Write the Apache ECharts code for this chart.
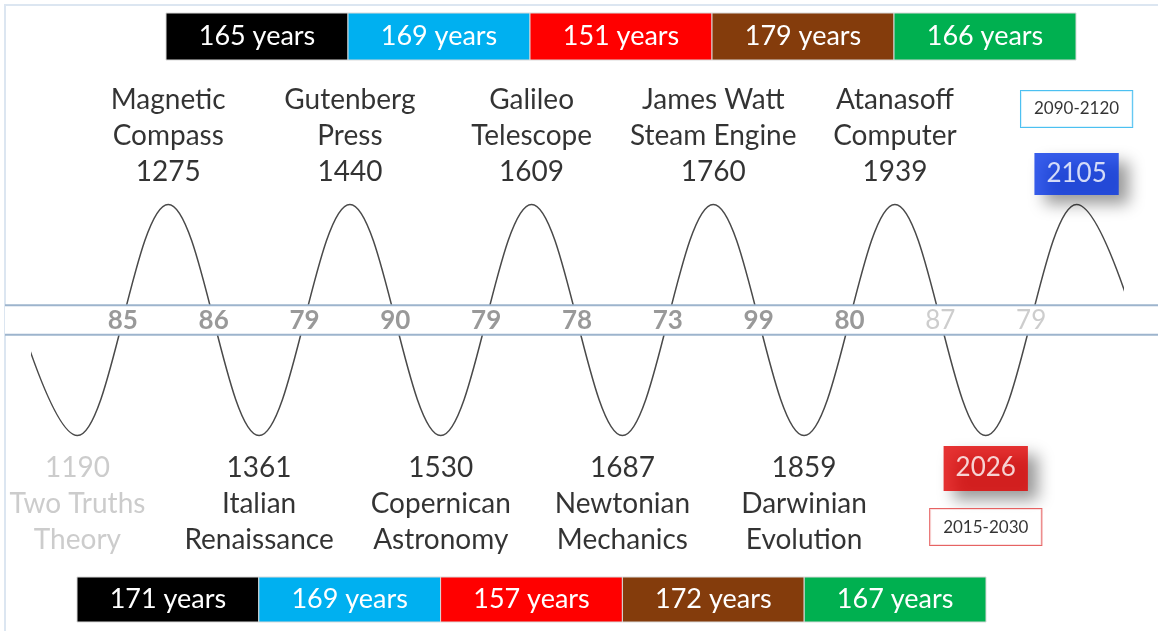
<!DOCTYPE html>
<html lang="en">
<head>
<meta charset="UTF-8">
<title>cycles</title>
<script src="https://cdn.jsdelivr.net/npm/echarts@6/dist/echarts.min.js"></script>
<style>html,body{margin:0;padding:0;background:#fff;}</style>
</head>
<body>
<div id="main" style="width:1158px;height:631px;"></div>
<script>
    // events on the crests (odd positions) and in the troughs (even positions)
    var peakNames = ['Magnetic\nCompass', 'Gutenberg\nPress', 'Galileo\nTelescope', 'James Watt\nSteam Engine', 'Atanasoff\nComputer', ''];
    var peakYears = [1275, 1440, 1609, 1760, 1939, 2105];
    var troughYears = [1190, 1361, 1530, 1687, 1859, 2026];
    var troughNames = ['Two Truths\nTheory', 'Italian\nRenaissance', 'Copernican\nAstronomy', 'Newtonian\nMechanics', 'Darwinian\nEvolution', ''];
    // years between neighbouring events (shown inside the band)
    var gaps = [85, 86, 79, 90, 79, 78, 73, 99, 80, 87, 79];
    // years between crest and crest / trough and trough
    var topSpans = [165, 169, 151, 179, 166];
    var bottomSpans = [171, 169, 157, 172, 167];
    var forecastRanges = ['2015-2030', '2090-2120'];
    // the wave: position on the timeline and height (+1 crest, -1 trough)
    var waveX = [-1, 0, 1, 2, 3, 4, 5, 6, 7, 8, 9, 10, 11, 12];
    var waveY = [1, -1, 1, -1, 1, -1, 1, -1, 1, -1, 1, -1, 1, -1];

    var spanColors = ['#000000', '#00b0f0', '#ff0000', '#843c0c', '#00b050'];
    var FONT = 'Lato';
    var bandHalf = 0.127;

    var myChart = echarts.init(document.getElementById('main'));

    function renderBand(params, api) {
        var yTop = api.coord([0, bandHalf])[1];
        var yBot = api.coord([0, -bandHalf])[1];
        var w = api.getWidth();
        return {
            type: 'group',
            children: [
                {type: 'rect', shape: {x: 5, y: yTop, width: w - 5, height: yBot - yTop}, style: {fill: '#fff'}},
                {type: 'line', shape: {x1: 5, y1: yTop, x2: w, y2: yTop}, style: {stroke: '#9db4cd', lineWidth: 2}},
                {type: 'line', shape: {x1: 5, y1: yBot, x2: w, y2: yBot}, style: {stroke: '#9db4cd', lineWidth: 2}}
            ]
        };
    }

    function renderCells(params, api) {
        var idx = api.value(0);
        var c = api.coord([idx, 0]);
        var w = api.size([1, 0])[0];
        var cs = params.coordSys;
        return {
            type: 'rect',
            shape: {x: c[0] - w / 2, y: cs.y, width: w, height: cs.height},
            style: {fill: spanColors[idx], stroke: '#d9d9d9', lineWidth: 1},
            textContent: {style: {text: api.value(1) + ' years', fill: '#fff', font: '27px ' + FONT}},
            textConfig: {position: 'inside'}
        };
    }

    var waveData = waveX.map(function (x, i) { return [x, waveY[i]]; });

    var gapData = gaps.map(function (g, i) {
        var item = {value: [i + 0.5, 0]};
        if (i >= 9) {
            item.label = {color: '#c0c0c0', fontWeight: 'normal'};
        }
        return item;
    });

    // boxed year for the forecast crest / trough
    function boxLabel(bg, pad, distance) {
        return {
            color: '#fff', backgroundColor: bg, padding: pad, lineHeight: 28, fontSize: 26,
            distance: distance, shadowBlur: 16, shadowColor: 'rgba(0,0,0,0.5)', shadowOffsetX: 10, shadowOffsetY: 9
        };
    }

    var peakData = peakYears.map(function (yr, k) {
        var item = {value: [2 * k + 1, 1]};
        if (!peakNames[k]) {
            item.label = boxLabel('#0535e6', [7, 12], 9);
        }
        return item;
    });

    var troughData = troughYears.map(function (yr, k) {
        var item = {value: [2 * k, -1]};
        if (k === 0) {
            item.label = {color: '#bfbfbf'};
        }
        if (!troughNames[k]) {
            item.label = boxLabel('#e00000', [8, 12, 9, 12], 10);
        }
        return item;
    });

    var rangeData = [
        {value: [10, -1], label: {position: 'bottom', distance: 73, borderColor: '#e03c3c'}},
        {value: [11, 1], label: {position: 'top', distance: 77, borderColor: '#1fb0ee'}}
    ];

    var labelSeries = {
        type: 'scatter', xAxisIndex: 0, yAxisIndex: 0, symbolSize: 1,
        itemStyle: {color: 'rgba(0,0,0,0)'}, silent: true, z: 5
    };

    option = {
        animation: false,
        backgroundColor: '#fff',
        graphic: [{
            type: 'rect', shape: {x: 5, y: 5, width: 1200, height: 700},
            style: {fill: 'none', stroke: '#dce6f1', lineWidth: 2}, z: 0
        }],
        grid: [
            {left: 32, width: 1090, top: 8, height: 624, outerBoundsMode: 'none'},
            {left: 166, width: 910, top: 13, height: 47, outerBoundsMode: 'none'},
            {left: 77, width: 909, top: 577, height: 45, outerBoundsMode: 'none'}
        ],
        xAxis: [
            {type: 'value', gridIndex: 0, min: -0.5, max: 11.5, show: false},
            {type: 'value', gridIndex: 1, min: -0.5, max: 4.5, show: false},
            {type: 'value', gridIndex: 2, min: -0.5, max: 4.5, show: false}
        ],
        yAxis: [
            {type: 'value', gridIndex: 0, min: -2.7, max: 2.7, show: false},
            {type: 'value', gridIndex: 1, show: false, scale: true},
            {type: 'value', gridIndex: 2, show: false, scale: true}
        ],
        series: [
            {
                name: 'wave', type: 'line', data: waveData, smooth: 0.36, showSymbol: false,
                lineStyle: {color: '#4a4a4a', width: 1.5}, clip: true, z: 2, silent: true
            },
            {
                name: 'band', type: 'custom', data: [[0, 0]], renderItem: renderBand, z: 3, silent: true
            },
            Object.assign({}, labelSeries, {
                name: 'gaps', data: gapData,
                label: {
                    show: true, position: 'inside', fontFamily: FONT, fontSize: 26, fontWeight: 'bold',
                    color: '#7f7f7f', offset: [0, 1],
                    formatter: function (p) { return String(gaps[p.dataIndex]); }
                }
            }),
            Object.assign({}, labelSeries, {
                name: 'peaks', data: peakData,
                label: {
                    show: true, position: 'top', distance: 14, fontFamily: FONT, fontSize: 28, lineHeight: 36,
                    color: '#000', align: 'center',
                    formatter: function (p) {
                        var k = p.dataIndex;
                        return peakNames[k] ? peakNames[k] + '\n' + peakYears[k] : String(peakYears[k]);
                    }
                }
            }),
            Object.assign({}, labelSeries, {
                name: 'troughs', data: troughData,
                label: {
                    show: true, position: 'bottom', distance: 14, fontFamily: FONT, fontSize: 28, lineHeight: 36,
                    color: '#000', align: 'center',
                    formatter: function (p) {
                        var k = p.dataIndex;
                        return troughNames[k] ? troughYears[k] + '\n' + troughNames[k] : String(troughYears[k]);
                    }
                }
            }),
            Object.assign({}, labelSeries, {
                name: 'ranges', data: rangeData,
                label: {
                    show: true, fontFamily: FONT, fontSize: 17, lineHeight: 20, color: '#000',
                    backgroundColor: '#fff', borderWidth: 1, padding: [8, 13],
                    formatter: function (p) { return forecastRanges[p.dataIndex]; }
                }
            }),
            {
                name: 'top spans', type: 'custom', xAxisIndex: 1, yAxisIndex: 1,
                data: topSpans.map(function (s, i) { return [i, s]; }),
                renderItem: renderCells, silent: true
            },
            {
                name: 'bottom spans', type: 'custom', xAxisIndex: 2, yAxisIndex: 2,
                data: bottomSpans.map(function (s, i) { return [i, s]; }),
                renderItem: renderCells, silent: true
            }
        ]
    };
    myChart.setOption(option);
</script>
</body>
</html>
